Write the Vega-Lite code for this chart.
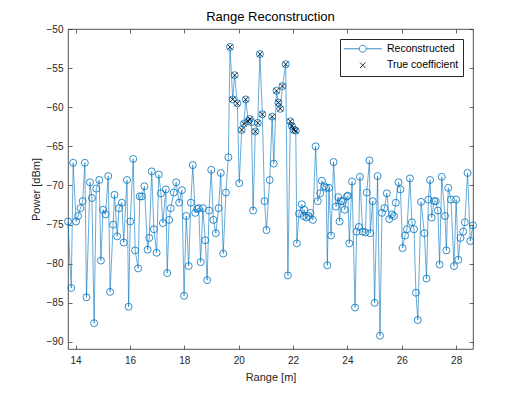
{
  "$schema": "https://vega.github.io/schema/vega-lite/v6.json",
  "autosize": "none",
  "width": 405,
  "height": 320,
  "padding": {"left": 68, "top": 29, "right": 50, "bottom": 44},
  "background": "white",
  "title": {"text": "Range Reconstruction", "fontSize": 13, "fontWeight": "normal", "font": "Liberation Sans", "color": "#000000", "offset": 0},
  "config": {
    "view": {"stroke": "#262626", "strokeWidth": 0.8},
    "axis": {"domain": false, "grid": false, "tickColor": "#262626", "tickSize": -4, "tickWidth": 0.7, "labelFont": "Liberation Sans", "labelFontSize": 10, "labelColor": "#262626", "titleFont": "Liberation Sans", "titleFontSize": 11, "titleFontWeight": "normal", "titleColor": "#262626"}
  },
  "data": {"values": [
    {"r":13.72,"p":-74.6},{"r":13.84,"p":-83.1},{"r":13.91,"p":-67.1},{"r":14.02,"p":-74.6},{"r":14.09,"p":-73.9},{"r":14.18,"p":-72.9},{"r":14.26,"p":-72.0},{"r":14.34,"p":-67.1},{"r":14.40,"p":-84.3},{"r":14.53,"p":-69.6},{"r":14.60,"p":-71.6},{"r":14.68,"p":-87.6},{"r":14.76,"p":-70.4},{"r":14.87,"p":-69.3},{"r":14.93,"p":-79.6},{"r":15.01,"p":-73.1},{"r":15.10,"p":-73.7},{"r":15.20,"p":-68.8},{"r":15.27,"p":-83.6},{"r":15.38,"p":-75.0},{"r":15.43,"p":-71.2},{"r":15.53,"p":-76.5},{"r":15.60,"p":-72.9},{"r":15.70,"p":-72.2},{"r":15.77,"p":-77.3},{"r":15.89,"p":-69.3},{"r":15.95,"p":-85.5},{"r":16.01,"p":-74.6},{"r":16.12,"p":-66.6},{"r":16.19,"p":-78.3},{"r":16.30,"p":-80.6},{"r":16.36,"p":-71.4},{"r":16.44,"p":-71.4},{"r":16.53,"p":-70.1},{"r":16.65,"p":-78.2},{"r":16.71,"p":-76.7},{"r":16.80,"p":-68.2},{"r":16.88,"p":-75.6},{"r":16.98,"p":-78.6},{"r":17.06,"p":-68.6},{"r":17.14,"p":-71.0},{"r":17.21,"p":-74.8},{"r":17.32,"p":-70.5},{"r":17.37,"p":-81.2},{"r":17.44,"p":-74.4},{"r":17.50,"p":-72.9},{"r":17.61,"p":-70.9},{"r":17.70,"p":-69.6},{"r":17.81,"p":-72.2},{"r":17.91,"p":-70.6},{"r":17.99,"p":-84.1},{"r":18.07,"p":-73.9},{"r":18.16,"p":-80.3},{"r":18.24,"p":-72.2},{"r":18.31,"p":-67.4},{"r":18.40,"p":-73.5},{"r":18.47,"p":-73.0},{"r":18.53,"p":-72.9},{"r":18.60,"p":-79.8},{"r":18.68,"p":-72.9},{"r":18.77,"p":-77.0},{"r":18.84,"p":-82.1},{"r":18.91,"p":-73.2},{"r":18.99,"p":-68.0},{"r":19.07,"p":-74.4},{"r":19.16,"p":-76.1},{"r":19.26,"p":-72.9},{"r":19.34,"p":-68.4},{"r":19.43,"p":-78.7},{"r":19.53,"p":-70.9},{"r":19.62,"p":-66.4},
    {"r":19.68,"p":-52.3,"t":1},{"r":19.78,"p":-59.0,"t":1},{"r":19.85,"p":-55.9,"t":1},{"r":19.95,"p":-59.5,"t":1},{"r":20.02,"p":-69.7},{"r":20.11,"p":-62.9,"t":1},{"r":20.19,"p":-62.1,"t":1},{"r":20.26,"p":-59.0,"t":1},{"r":20.35,"p":-61.8,"t":1},{"r":20.41,"p":-61.5,"t":1},{"r":20.47,"p":-61.9},{"r":20.53,"p":-73.2},{"r":20.61,"p":-63.1,"t":1},{"r":20.70,"p":-62.0,"t":1},{"r":20.78,"p":-53.2,"t":1},{"r":20.87,"p":-60.9,"t":1},{"r":20.95,"p":-72.0},{"r":21.02,"p":-75.7},{"r":21.14,"p":-69.3},{"r":21.23,"p":-61.2,"t":1},{"r":21.29,"p":-67.2},{"r":21.39,"p":-57.9,"t":1},{"r":21.46,"p":-59.4,"t":1},{"r":21.53,"p":-60.2,"t":1},{"r":21.61,"p":-57.3,"t":1},{"r":21.73,"p":-54.5,"t":1},{"r":21.81,"p":-81.5},{"r":21.90,"p":-61.8,"t":1},{"r":21.96,"p":-62.4,"t":1},{"r":22.03,"p":-62.9,"t":1},{"r":22.10,"p":-63.0,"t":1},{"r":22.14,"p":-77.4},
    {"r":22.22,"p":-73.6},{"r":22.32,"p":-72.4},{"r":22.39,"p":-73.9},{"r":22.41,"p":-73.1},{"r":22.49,"p":-74.1},{"r":22.57,"p":-73.9},{"r":22.64,"p":-73.5},{"r":22.73,"p":-74.4},{"r":22.83,"p":-65.0},{"r":22.91,"p":-72.0},{"r":23.00,"p":-71.0},{"r":23.06,"p":-69.4},{"r":23.15,"p":-70.1},{"r":23.22,"p":-70.3},{"r":23.26,"p":-80.2},{"r":23.32,"p":-70.3},{"r":23.40,"p":-76.4},{"r":23.49,"p":-67.0},{"r":23.58,"p":-72.7},{"r":23.66,"p":-71.5},{"r":23.71,"p":-74.6},{"r":23.77,"p":-72.0},{"r":23.83,"p":-72.0},{"r":23.90,"p":-73.1},{"r":23.98,"p":-71.4},{"r":24.02,"p":-71.3},{"r":24.07,"p":-77.4},{"r":24.17,"p":-69.5},{"r":24.28,"p":-85.6},{"r":24.34,"p":-75.9},{"r":24.42,"p":-75.3},{"r":24.46,"p":-68.9},{"r":24.56,"p":-75.9},{"r":24.66,"p":-76.0},{"r":24.71,"p":-70.9},{"r":24.81,"p":-66.8},{"r":24.84,"p":-76.1},{"r":24.93,"p":-72.0},{"r":25.00,"p":-85.0},{"r":25.11,"p":-68.8},{"r":25.20,"p":-89.2},{"r":25.27,"p":-73.5},{"r":25.36,"p":-72.9},{"r":25.45,"p":-71.0},{"r":25.54,"p":-74.3},{"r":25.64,"p":-73.7},{"r":25.71,"p":-73.9},{"r":25.78,"p":-72.2},{"r":25.88,"p":-69.6},{"r":25.95,"p":-70.5},{"r":26.03,"p":-78.0},{"r":26.12,"p":-76.4},{"r":26.19,"p":-75.6},{"r":26.30,"p":-69.1},{"r":26.37,"p":-74.7},{"r":26.45,"p":-75.6},{"r":26.52,"p":-83.7},{"r":26.59,"p":-87.2},{"r":26.71,"p":-72.1},{"r":26.83,"p":-76.1},{"r":26.91,"p":-81.9},{"r":26.98,"p":-71.8},{"r":27.04,"p":-69.3},{"r":27.10,"p":-74.1},{"r":27.19,"p":-72.0},{"r":27.25,"p":-72.0},{"r":27.33,"p":-73.2},{"r":27.39,"p":-80.1},{"r":27.47,"p":-68.9},{"r":27.59,"p":-73.9},{"r":27.64,"p":-78.3},{"r":27.71,"p":-70.3},{"r":27.81,"p":-71.8},{"r":27.92,"p":-80.3},{"r":28.00,"p":-71.8},{"r":28.08,"p":-79.5},{"r":28.16,"p":-76.7},{"r":28.26,"p":-75.9},{"r":28.32,"p":-74.7},{"r":28.42,"p":-68.4},{"r":28.52,"p":-77.1},{"r":28.62,"p":-75.1}
  ]},
  "resolve": {"axis": {"x": "independent", "y": "independent"}},
  "layer": [
    {
      "mark": {"type": "line", "color": "#0072BD", "strokeWidth": 0.6},
      "encoding": {
        "x": {"field": "r", "type": "quantitative", "scale": {"domain": [13.72, 28.62], "nice": false, "zero": false},
              "axis": {"orient": "bottom", "values": [14,16,18,20,22,24,26,28], "title": "Range [m]", "labelPadding": 10, "titlePadding": 6}},
        "y": {"field": "p", "type": "quantitative", "scale": {"domain": [-90.9, -50], "nice": false, "zero": false},
              "axis": {"orient": "left", "values": [-90,-85,-80,-75,-70,-65,-60,-55,-50], "title": "Power [dBm]", "labelPadding": 9, "titlePadding": 5}}
      }
    },
    {
      "mark": {"type": "point", "shape": "circle", "filled": false, "stroke": "#0072BD", "strokeWidth": 0.8, "size": 49, "opacity": 1},
      "encoding": {
        "x": {"field": "r", "type": "quantitative", "axis": {"orient": "top", "values": [14,16,18,20,22,24,26,28], "labels": false, "title": null}},
        "y": {"field": "p", "type": "quantitative", "axis": {"orient": "right", "values": [-90,-85,-80,-75,-70,-65,-60,-55,-50], "labels": false, "title": null}}
      }
    },
    {
      "transform": [{"filter": "datum.t == 1"}],
      "mark": {"type": "point", "filled": false, "strokeWidth": 0.8, "size": 42, "opacity": 1},
      "encoding": {
        "x": {"field": "r", "type": "quantitative", "axis": null},
        "y": {"field": "p", "type": "quantitative", "axis": null},
        "stroke": {"datum": "True coefficient", "type": "nominal",
          "scale": {"domain": ["Reconstructed", "True coefficient"], "range": ["#0072BD", "#000000"]},
          "legend": {"title": null, "orient": "top-right", "offset": 10, "fillColor": "white", "strokeColor": "#262626", "padding": 4.5,
            "symbolSize": 49, "symbolStrokeWidth": 0.8, "symbolFillColor": "transparent", "labelFont": "Liberation Sans", "labelFontSize": 10.5, "labelColor": "#000000",
            "labelOffset": 19, "symbolOffset": 13, "rowPadding": 5.5}},
        "shape": {"datum": "True coefficient", "type": "nominal",
          "scale": {"domain": ["Reconstructed", "True coefficient"], "range": ["M-5.43,0L-1,0M1,0L5.43,0M-1,0A1,1 0 1,0 1,0A1,1 0 1,0 -1,0", "M-0.8,-0.8L0.8,0.8M-0.8,0.8L0.8,-0.8"]},
          "legend": {"title": null, "orient": "top-right", "offset": 10, "fillColor": "white", "strokeColor": "#262626", "padding": 4.5,
            "symbolSize": 49, "symbolStrokeWidth": 0.8, "symbolFillColor": "transparent", "labelFont": "Liberation Sans", "labelFontSize": 10.5, "labelColor": "#000000",
            "labelOffset": 19, "symbolOffset": 13, "rowPadding": 5.5}}
      }
    }
  ]
}
